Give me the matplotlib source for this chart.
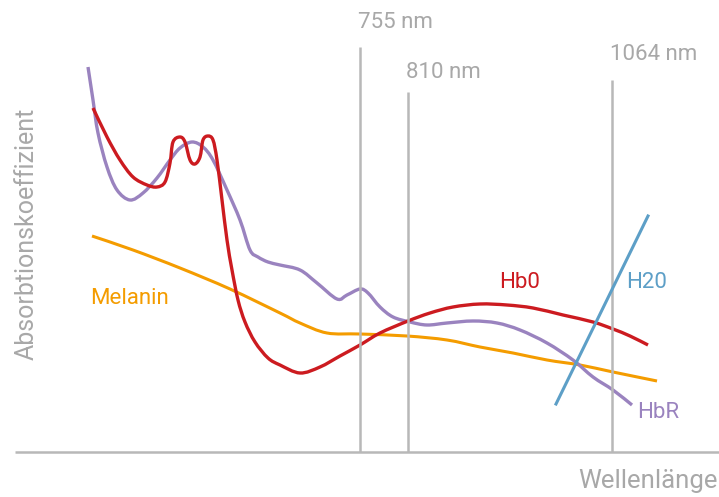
import numpy as np
import matplotlib
matplotlib.use('Agg')
import matplotlib.pyplot as plt
from matplotlib.path import Path
from matplotlib.patches import PathPatch

# curves, in pixel coordinates (y grows downwards)
hbo_x = [93, 107, 120, 133, 147, 157, 165, 170, 173, 180, 185, 190, 195, 200, 203, 208, 213, 217,
         222, 227, 232, 238, 245, 255, 268, 280, 300, 320, 340, 360, 380, 408, 430, 453, 480, 507,
         533, 563, 593, 613, 630, 648]
hbo_y = [108, 137, 160, 177, 185, 187, 182, 163, 142, 137, 142, 160, 164, 157, 140, 136, 140, 160,
         200, 240, 270, 300, 322, 342, 358, 365, 373, 367, 356, 345, 333, 321, 313, 307, 304, 305,
         308, 315, 322, 329, 336, 345]

hbr_x = [88, 93, 98, 107, 117, 130, 143, 157, 170, 180, 192, 203, 213, 227, 240, 250, 258, 268,
         280, 300, 317, 337, 347, 360, 368, 380, 393, 410, 427, 447, 473, 497, 520, 547, 573, 593,
         613, 632]
hbr_y = [67, 100, 133, 167, 190, 200, 193, 178, 160, 148, 142, 147, 160, 190, 220, 250, 257, 262,
         265, 270, 283, 299, 295, 289, 293, 307, 317, 322, 325, 323, 321, 323, 330, 343, 360, 377,
         390, 405]

mel_x = [92, 133, 180, 230, 280, 300, 327, 360, 407, 447, 480, 513, 547, 580, 613, 657]
mel_y = [236, 250, 268, 289, 313, 323, 333, 334, 336, 340, 347, 353, 360, 365, 372, 381]

h2o_x = [556, 648]
h2o_y = [404, 216]

markers = ['755 nm', '810 nm', '1064 nm']
marker_x = [360, 408, 612]
marker_top = [47, 92, 80]
marker_label_y = [23, 72, 55]

red = '#cc1b20'
purple = '#9a83bf'
orange = '#f49c00'
blue = '#5d9fc7'
grey = '#b8b8b8'
textgrey = '#a8a8a8'


def smooth(xs, ys):
    # catmull-rom through the points, drawn as bezier segments
    p = np.column_stack([xs, ys]).astype(float)
    p = np.vstack([p[0], p, p[-1]])
    verts = [p[1]]
    codes = [Path.MOVETO]
    for i in range(1, len(p) - 2):
        c1 = p[i] + (p[i + 1] - p[i - 1]) / 6
        c2 = p[i + 1] - (p[i + 2] - p[i]) / 6
        verts += [c1, c2, p[i + 1]]
        codes += [Path.CURVE4] * 3
    return Path(verts, codes)


plt.rcParams['font.family'] = ['Roboto', 'DejaVu Sans']

fig = plt.figure(figsize=(7.19, 4.97), dpi=100)
ax = fig.add_axes([0, 0, 1, 1])
ax.set_xlim(0, 719)
ax.set_ylim(497, 0)
ax.axis('off')

# axis line and wavelength markers
ax.plot([15, 719], [452, 452], color=grey, lw=1.8, solid_capstyle='butt')
for lab, x, top, ly in zip(markers, marker_x, marker_top, marker_label_y):
    ax.plot([x, x], [top, 452], color=grey, lw=1.8, solid_capstyle='butt')
    ax.text(x - 2, ly, lab, color=textgrey, fontsize=16, ha='left', va='center')

for xs, ys, c, w in [(mel_x, mel_y, orange, 2.2), (hbr_x, hbr_y, purple, 2.4),
                     (hbo_x, hbo_y, red, 2.4)]:
    ax.add_patch(PathPatch(smooth(xs, ys), facecolor='none', edgecolor=c, lw=w,
                           joinstyle='round', capstyle='butt'))
ax.plot(h2o_x, h2o_y, color=blue, lw=2.2)

ax.text(90, 298, 'Melanin', color=orange, fontsize=16, ha='left', va='center')
ax.text(499, 283, 'Hb0', color=red, fontsize=16, ha='left', va='center')
ax.text(626, 283, 'H20', color=blue, fontsize=16, ha='left', va='center')
ax.text(637, 412, 'HbR', color=purple, fontsize=16, ha='left', va='center')

ax.text(718, 481, 'Wellenlänge', color=textgrey, fontsize=18.5, ha='right', va='center')
ax.text(27, 234, 'Absorbtionskoeffizient', color=textgrey, fontsize=18, rotation=90,
        ha='center', va='center')

fig.savefig('out.png', dpi=100)
